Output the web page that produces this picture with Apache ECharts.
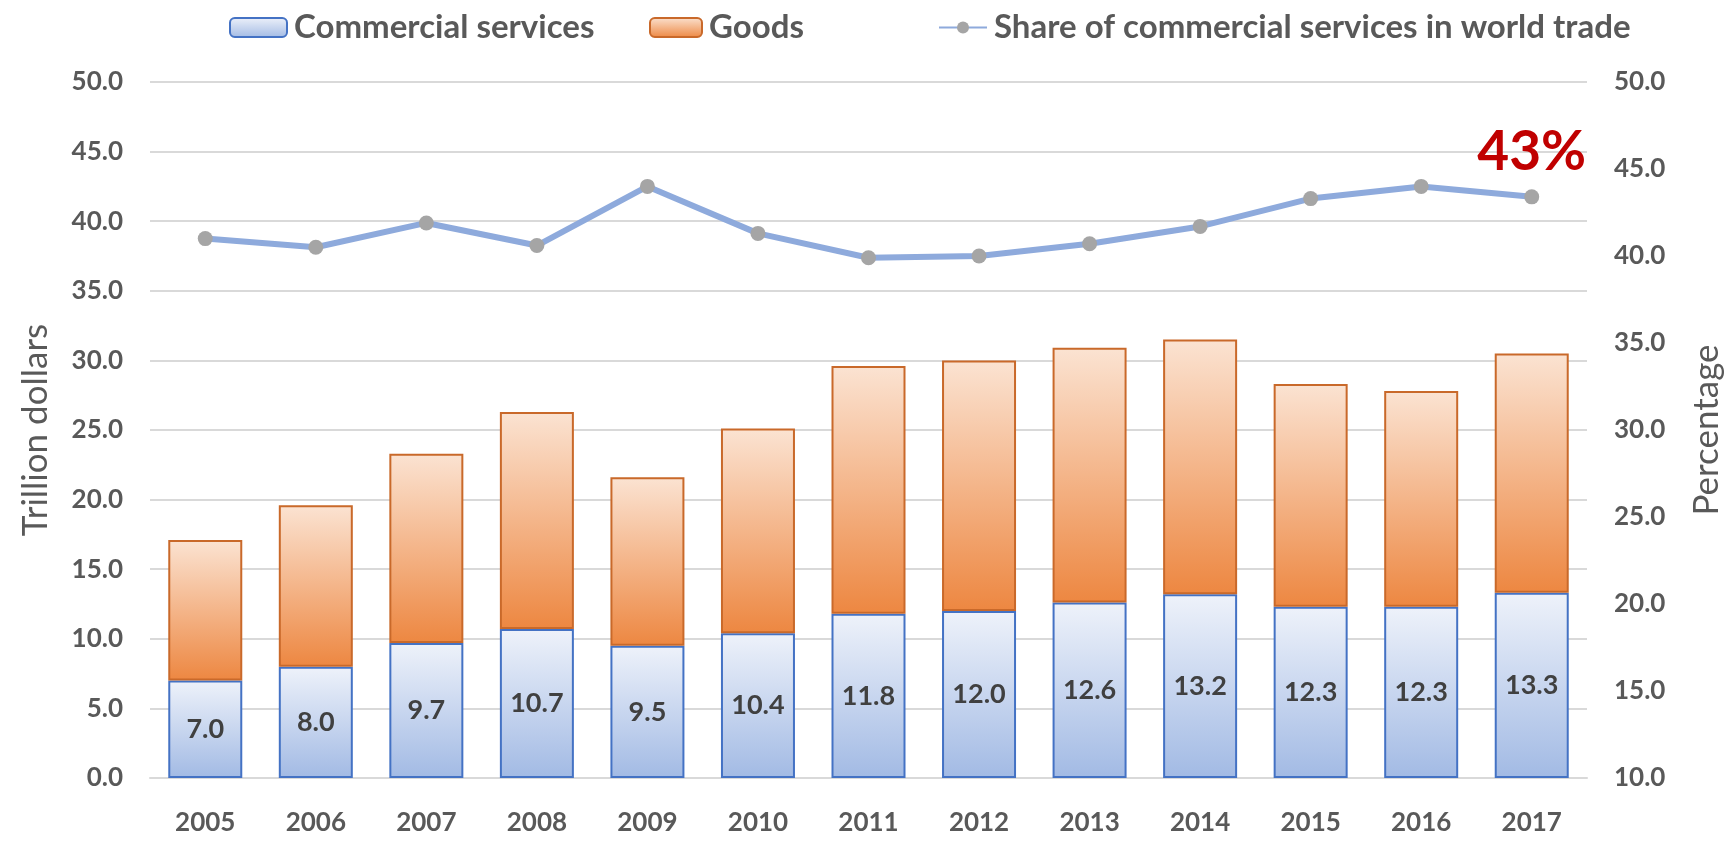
<!DOCTYPE html>
<html>
<head>
<meta charset="utf-8">
<script src="https://cdn.jsdelivr.net/npm/echarts@6/dist/echarts.min.js"></script>
<style>
  html, body { margin: 0; padding: 0; background: #ffffff; }
  #chart { width: 1732px; height: 853px; }
</style>
</head>
<body>
<div id="chart"></div>
<script>
// World trade, 2005-2017: trillion dollars (stacked bars) and services share (line, %)
const years = ['2005', '2006', '2007', '2008', '2009', '2010', '2011', '2012', '2013', '2014', '2015', '2016', '2017'];
const commercialServices = [7.0, 8.0, 9.7, 10.7, 9.5, 10.4, 11.8, 12.0, 12.6, 13.2, 12.3, 12.3, 13.3];
const goods = [10.1, 11.6, 13.6, 15.6, 12.1, 14.7, 17.8, 18.0, 18.3, 18.3, 16.0, 15.5, 17.2];
const servicesShare = [41.0, 40.5, 41.9, 40.6, 44.0, 41.3, 39.9, 40.0, 40.7, 41.7, 43.3, 44.0, 43.4];

const FONT = 'Lato, "Open Sans", sans-serif';
const GREY_TEXT = '#595959';
const GRID_LINE = '#d9d9d9';

const blueFill = new echarts.graphic.LinearGradient(0, 0, 0, 1, [
  { offset: 0, color: '#eef2fa' },
  { offset: 1, color: '#a2bae4' }
]);
const orangeFill = new echarts.graphic.LinearGradient(0, 0, 0, 1, [
  { offset: 0, color: '#fbe3d2' },
  { offset: 1, color: '#ed8741' }
]);

// Only the latest year carries the large percentage callout
const shareData = servicesShare.map((v, i) => i === servicesShare.length - 1 ? {
  value: v,
  label: {
    show: true,
    position: 'top',
    distance: 10,
    formatter: p => Math.round(p.value) + '%',
    color: '#c00000',
    fontFamily: FONT,
    fontWeight: 'bold',
    fontSize: 55,
    lineHeight: 55
  }
} : v);

const legendText = { color: GREY_TEXT, fontFamily: FONT, fontWeight: 'bold', fontSize: 33, padding: [0, 0, 0, 2] };

const chart = echarts.init(document.getElementById('chart'), null, { renderer: 'canvas' });
chart.setOption({
  animation: false,
  backgroundColor: '#ffffff',
  grid: { left: 150, right: 144, top: 82, bottom: 75, containLabel: false },
  legend: [
    { data: ['Commercial services'], left: 224, top: 6, itemWidth: 57, itemHeight: 19, itemGap: 0, textStyle: legendText },
    { data: ['Goods'], left: 644, top: 6, itemWidth: 52, itemHeight: 19, itemGap: 0, textStyle: legendText },
    { data: ['Share of commercial services in world trade'], left: 933, top: 6, itemWidth: 48, itemHeight: 15, itemGap: 0, textStyle: legendText }
  ],
  xAxis: {
    type: 'category',
    data: years,
    axisLine: { show: true, lineStyle: { color: GRID_LINE, width: 2 } },
    axisTick: { show: false },
    axisLabel: { margin: 32, color: GREY_TEXT, fontFamily: FONT, fontWeight: 'bold', fontSize: 26 }
  },
  yAxis: [
    {
      type: 'value',
      min: 0, max: 50, interval: 5,
      name: 'Trillion dollars',
      nameLocation: 'middle',
      nameGap: 97,
      nameRotate: 90,
      nameTextStyle: { color: GREY_TEXT, fontFamily: FONT, fontSize: 35 },
      axisLine: { show: false },
      axisTick: { show: false },
      axisLabel: { margin: 27, color: GREY_TEXT, fontFamily: FONT, fontWeight: 'bold', fontSize: 26, formatter: v => v.toFixed(1) },
      splitLine: { show: true, lineStyle: { color: GRID_LINE, width: 2 } }
    },
    {
      type: 'value',
      position: 'right',
      min: 10, max: 50, interval: 5,
      name: 'Percentage',
      nameLocation: 'middle',
      nameGap: 102,
      nameRotate: 90,
      nameTextStyle: { color: GREY_TEXT, fontFamily: FONT, fontSize: 35 },
      axisLine: { show: false },
      axisTick: { show: false },
      axisLabel: { margin: 27, color: GREY_TEXT, fontFamily: FONT, fontWeight: 'bold', fontSize: 26, formatter: v => v.toFixed(1) },
      splitLine: { show: false }
    }
  ],
  series: [
    {
      name: 'Commercial services',
      type: 'bar',
      stack: 'trade',
      yAxisIndex: 0,
      barWidth: 74,
      data: commercialServices,
      itemStyle: { color: blueFill, borderColor: '#4472c4', borderWidth: 2 },
      label: {
        show: true,
        position: 'inside',
        formatter: p => p.value.toFixed(1),
        color: '#404040',
        fontFamily: FONT,
        fontWeight: 'bold',
        fontSize: 27
      }
    },
    {
      name: 'Goods',
      type: 'bar',
      stack: 'trade',
      yAxisIndex: 0,
      barWidth: 74,
      data: goods,
      itemStyle: { color: orangeFill, borderColor: '#c9692a', borderWidth: 2 }
    },
    {
      name: 'Share of commercial services in world trade',
      type: 'line',
      yAxisIndex: 1,
      data: shareData,
      symbol: 'circle',
      symbolSize: 15,
      itemStyle: { color: '#a5a5a5', borderWidth: 0 },
      lineStyle: { color: '#8eaadc', width: 6 },
      z: 5
    }
  ]
});
</script>
</body>
</html>
